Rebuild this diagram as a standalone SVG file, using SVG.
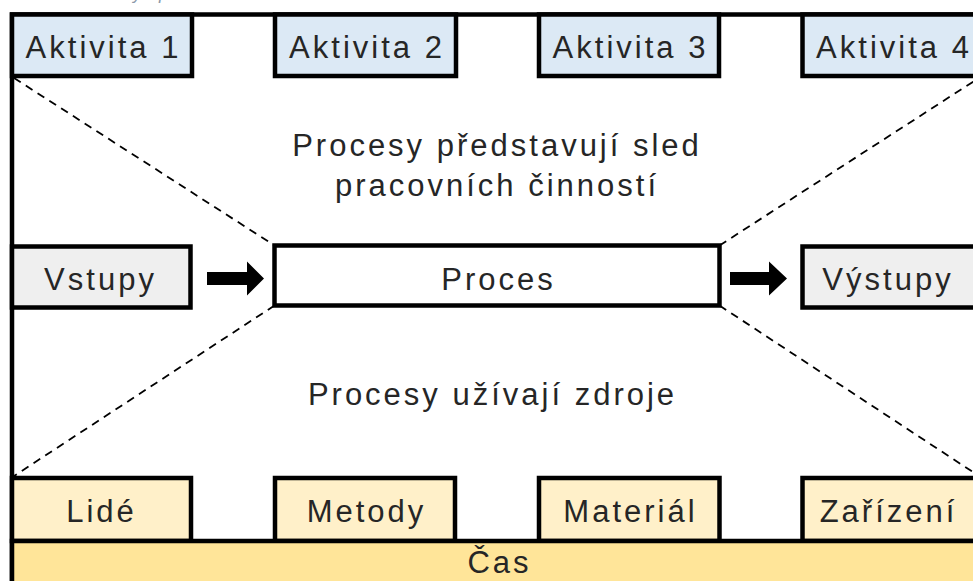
<svg xmlns="http://www.w3.org/2000/svg" width="973" height="581" viewBox="0 0 973 581">
  <style>
    .box { stroke: #000; stroke-width: 4.5; }
    .act { fill: #dce9f5; }
    .io { fill: #efefef; }
    .res { fill: #fff0c9; }
    .time { fill: #ffe599; }
    .lbl { font-family: "Liberation Sans", Arial, sans-serif; font-size: 31px; letter-spacing: 3px; fill: #262626; text-anchor: middle; }
    .dash { stroke: #000; stroke-width: 1.8; stroke-dasharray: 8 6; fill: none; }
    .cap { font-family: "Liberation Sans", Arial, sans-serif; font-size: 18px; font-style: italic; letter-spacing: 6px; fill: #8a98a8; }
  </style>

  <rect width="973" height="581" fill="#fff"/>

  <!-- caption running off the top edge -->
  <text class="cap" x="50" y="-1.5">Obecný proces</text>

  <!-- outer frame -->
  <rect id="frame" class="box" x="12" y="14.5" width="990" height="600" fill="#fff"/>

  <!-- connectors: guide lines and flow arrows -->
  <g id="connectors">
    <line class="dash" x1="14" y1="78" x2="274.5" y2="245.5"/>
    <line class="dash" x1="719.5" y1="245.5" x2="982" y2="76"/>
    <line class="dash" x1="274.5" y1="305.5" x2="14" y2="476"/>
    <line class="dash" x1="719.5" y1="305.5" x2="982" y2="478"/>
    <polygon points="207,272 247,272 247,261.5 264,278.5 247,295.5 247,285 207,285" fill="#000"/>
    <polygon points="730,272 769,272 769,261.5 787,278.5 769,295.5 769,285 730,285" fill="#000"/>
  </g>

  <!-- activities -->
  <g id="aktivita1"><rect class="box act" x="12" y="14.5" width="180" height="61.5"/><text class="lbl" x="103.5" y="57.5">Aktivita 1</text></g>
  <g id="aktivita2"><rect class="box act" x="275" y="14.5" width="181" height="61.5"/><text class="lbl" x="367" y="57.5">Aktivita 2</text></g>
  <g id="aktivita3"><rect class="box act" x="539" y="14.5" width="180" height="61.5"/><text class="lbl" x="630.5" y="57.5">Aktivita 3</text></g>
  <g id="aktivita4"><rect class="box act" x="802.5" y="14.5" width="180" height="61.5"/><text class="lbl" x="894" y="57.5">Aktivita 4</text></g>

  <!-- descriptions -->
  <g id="popis-aktivity">
    <text class="lbl" x="497" y="156">Procesy představují sled</text>
    <text class="lbl" x="497" y="196">pracovních činností</text>
  </g>
  <g id="popis-zdroje">
    <text class="lbl" x="492.5" y="405">Procesy užívají zdroje</text>
  </g>

  <!-- input / process / output -->
  <g id="vstupy"><rect class="box io" x="12" y="246.5" width="178.5" height="61"/><text class="lbl" x="100.5" y="289.5">Vstupy</text></g>
  <g id="proces"><rect class="box" x="274.5" y="245.5" width="445" height="60" fill="#fff"/><text class="lbl" x="498.5" y="289.5">Proces</text></g>
  <g id="vystupy"><rect class="box io" x="802.5" y="246.5" width="180" height="61"/><text class="lbl" x="888" y="289.5">Výstupy</text></g>

  <!-- resources -->
  <g id="lide"><rect class="box res" x="12" y="478" width="179" height="63"/><text class="lbl" x="101.5" y="522">Lidé</text></g>
  <g id="metody"><rect class="box res" x="275" y="478" width="180" height="63"/><text class="lbl" x="366.5" y="522">Metody</text></g>
  <g id="material"><rect class="box res" x="539" y="478" width="180.5" height="63"/><text class="lbl" x="630.5" y="522">Materiál</text></g>
  <g id="zarizeni"><rect class="box res" x="802.5" y="478" width="180" height="63"/><text class="lbl" x="888.5" y="522">Zařízení</text></g>

  <!-- time bar -->
  <g id="cas"><rect class="box time" x="12" y="541" width="990" height="60"/><text class="lbl" x="499.5" y="573">Čas</text></g>
</svg>
